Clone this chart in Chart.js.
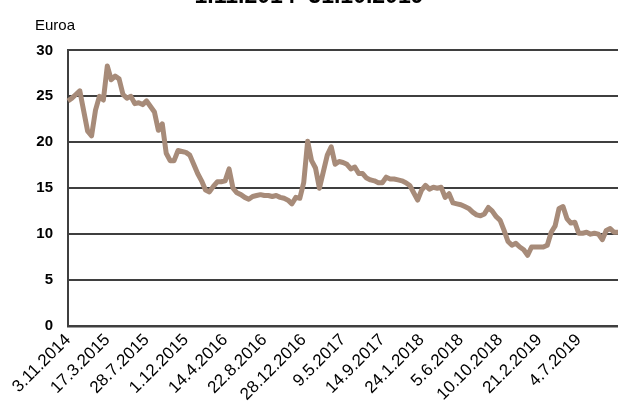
<!DOCTYPE html>
<html>
<head>
<meta charset="utf-8">
<script src="https://cdn.jsdelivr.net/npm/chart.js@4.4.1/dist/chart.umd.min.js"></script>
<style>
  html, body { margin: 0; padding: 0; background: #fff; overflow: hidden; }
  #wrap { position: absolute; left: 0; top: -17px; width: 618px; height: 434px; }
</style>
</head>
<body>
<div id="wrap"><canvas id="chart"></canvas></div>
<script>
// tick labels, one every 10 points
const tickLabels = ["3.11.2014", "17.3.2015", "28.7.2015", "1.12.2015", "14.4.2016", "22.8.2016",
    "28.12.2016", "9.5.2017", "14.9.2017", "24.1.2018", "5.6.2018", "10.10.2018", "21.2.2019", "4.7.2019"];

// share price, euros
const prices = [
    24.5, 24.8, 25.2, 25.6, 23.4, 21.2, 20.7, 23.5, 25.0, 24.6,
    28.3, 26.8, 27.2, 26.9, 25.2, 24.8, 25.0, 24.2, 24.3, 24.1,
    24.5, 23.9, 23.3, 21.3, 22.0, 18.8, 18.0, 18.0, 19.1, 19.0,
    18.9, 18.6, 17.6, 16.6, 15.8, 14.8, 14.6, 15.2, 15.7, 15.7,
    15.8, 17.1, 15.0, 14.5, 14.3, 14.0, 13.8, 14.1, 14.2, 14.3,
    14.2, 14.2, 14.1, 14.2, 14.0, 13.9, 13.7, 13.3, 14.0, 13.9,
    15.6, 20.1, 18.0, 17.2, 15.0, 16.8, 18.6, 19.5, 17.6, 17.9,
    17.8, 17.6, 17.1, 17.3, 16.6, 16.6, 16.1, 15.9, 15.8, 15.6,
    15.6, 16.2, 16.0, 16.0, 15.9, 15.8, 15.6, 15.3, 14.5, 13.7,
    14.8, 15.3, 14.9, 15.1, 15.0, 15.1, 14.0, 14.4, 13.4, 13.3,
    13.2, 13.0, 12.8, 12.4, 12.1, 12.0, 12.2, 12.9, 12.5, 11.9,
    11.5, 10.4, 9.2, 8.8, 9.0, 8.6, 8.3, 7.7, 8.6, 8.6,
    8.6, 8.6, 8.8, 10.2, 10.9, 12.8, 13.0, 11.7, 11.2, 11.3,
    10.1, 10.1, 10.2, 10.0, 10.1, 10.0, 9.4, 10.4, 10.6, 10.2,
    10.2
];

const labels = prices.map((p, i) => (i % 10 === 0 && tickLabels[i / 10]) ? tickLabels[i / 10] : "");

const fontFamily = "'Liberation Sans', Arial, sans-serif";
const gridColor = "#3f3f3f";

// "Euroa" unit text above the y axis
const unitLabel = {
    id: "unitLabel",
    afterDraw(chart) {
        const ctx = chart.ctx;
        ctx.save();
        ctx.font = "15px " + fontFamily;
        ctx.fillStyle = "#000";
        ctx.textAlign = "left";
        ctx.textBaseline = "alphabetic";
        ctx.fillText("Euroa", 35, 46.5);
        ctx.restore();
    }
};

new Chart(document.getElementById("chart"), {
    type: "line",
    data: {
        labels: labels,
        datasets: [{
            data: prices,
            borderColor: "rgb(167, 139, 121)",
            borderWidth: 5,
            borderJoinStyle: "round",
            pointRadius: 0,
            tension: 0,
            fill: false
        }]
    },
    options: {
        responsive: true,
        maintainAspectRatio: false,
        animation: false,
        layout: { padding: { left: 0, right: 0, top: 0, bottom: 0 } },
        plugins: {
            legend: { display: false },
            tooltip: { enabled: false },
            title: {
                display: true,
                text: "1.11.2014–31.10.2019",
                font: { family: fontFamily, size: 23, weight: "bold" },
                color: "#000",
                padding: { top: 0, bottom: 39.8 }
            }
        },
        scales: {
            x: {
                offset: false,
                grid: { display: false, drawTicks: false },
                border: { display: true, color: gridColor, width: 2.5 },
                ticks: {
                    autoSkip: false,
                    maxRotation: 45,
                    minRotation: 45,
                    padding: 4,
                    color: "#000",
                    font: { family: fontFamily, size: 17 }
                },
                afterFit(scale) {
                    scale.height = 91;
                    scale.paddingRight = 0;
                    scale.paddingLeft = 0;
                }
            },
            y: {
                min: 0,
                max: 30,
                ticks: {
                    stepSize: 5,
                    padding: 15,
                    color: "#000",
                    font: { family: fontFamily, size: 15, weight: "bold" }
                },
                grid: { color: gridColor, lineWidth: 2, drawTicks: false },
                border: { display: true, color: gridColor, width: 2 },
                afterFit(scale) { scale.width = 68; }
            }
        }
    },
    plugins: [unitLabel]
});
</script>
</body>
</html>
